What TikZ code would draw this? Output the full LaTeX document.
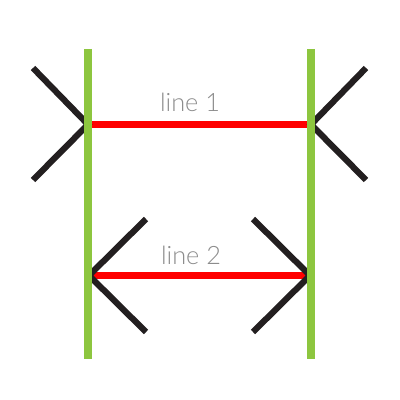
\documentclass[tikz,border=0pt]{standalone}
\usepackage{fontspec}
\setmainfont{Lato}[UprightFont=* Light]
\usetikzlibrary{positioning}
\definecolor{LeafGreen}{HTML}{8DC63F}
\definecolor{InkBlack}{HTML}{231F20}
\definecolor{LabelGray}{HTML}{8C8C8C}

\begin{document}
\begin{tikzpicture}[x=0.025cm,y=-0.025cm]
        \useasboundingbox (0,0) rectangle (400,400);
        \tikzset{
          fin/.style={InkBlack,line width=4.4pt},
          rail/.style={LeafGreen,line width=5.4pt},
          bar/.style={red,line width=5pt},
          tag/.style={text=LabelGray,font=\fontsize{18pt}{20pt}\selectfont,anchor=base,inner sep=0pt}
        }
        % rails
        \coordinate (lt) at (88,49);
        \coordinate (lb) at (88,359);
        \coordinate (rt) at (311,49);
        \coordinate (rb) at (311,359);
        % line 1 with outward fins
        \coordinate (a1) at (88,124.5);
        \coordinate (b1) at (311,124.5);
        \coordinate (a1u) at (33,68);
        \coordinate (a1d) at (33,180);
        \coordinate (b1u) at (366,68);
        \coordinate (b1d) at (366,180);
        % line 2 with inward fins
        \coordinate (a2) at (89,275.5);
        \coordinate (b2) at (310,275.5);
        \coordinate (a2u) at (146,219);
        \coordinate (a2d) at (146,332);
        \coordinate (b2u) at (253,219);
        \coordinate (b2d) at (253,332);
        \draw[bar] (a1)--(b1);
        \draw[bar] (a2)--(b2);
        \draw[fin] (a1u)--(a1)--(a1d);
        \draw[fin] (b1u)--(b1)--(b1d);
        \draw[fin] (a2u)--(a2)--(a2d);
        \draw[fin] (b2u)--(b2)--(b2d);
        \draw[rail] (lt)--(lb);
        \draw[rail] (rt)--(rb);
        \node[tag] (t1) at (190,112) {line 1};
        \node[tag] (t2) at (191,264) {line 2};
      \end{tikzpicture}
\end{document}
